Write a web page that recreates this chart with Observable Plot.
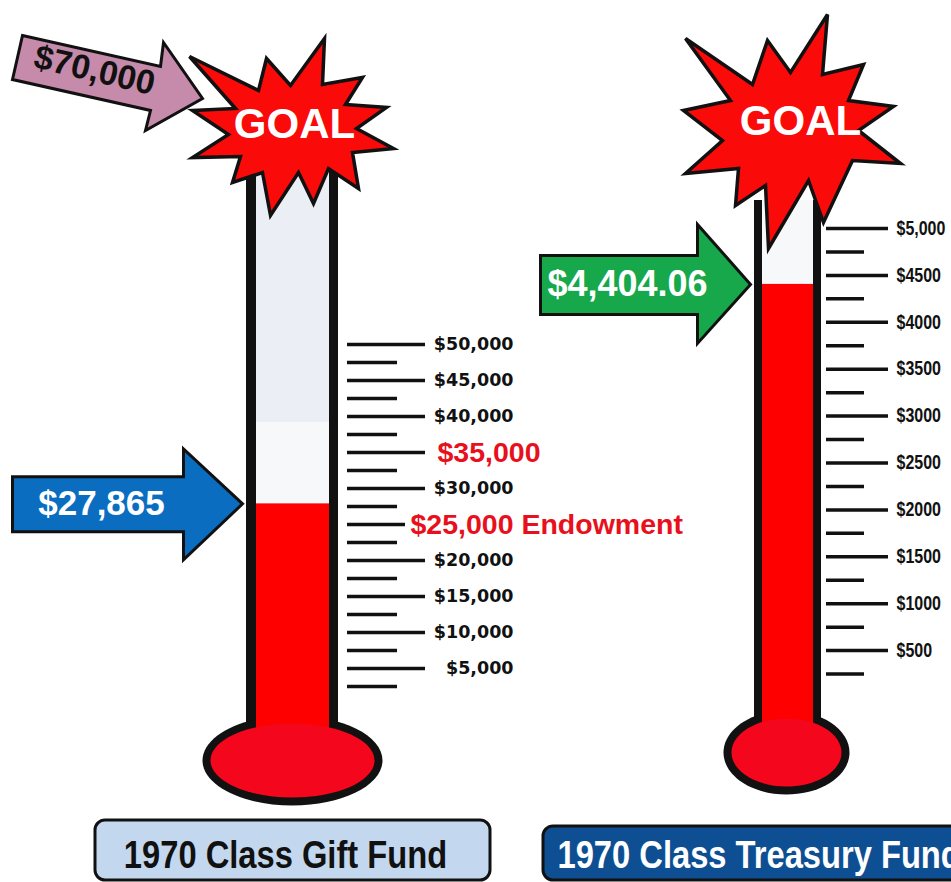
<!DOCTYPE html>
<html>
<head>
<meta charset="utf-8">
<script src="https://cdn.jsdelivr.net/npm/d3@7"></script>
<script src="https://cdn.jsdelivr.net/npm/@observablehq/plot@0.6"></script>
<style>
  html, body { margin: 0; padding: 0; background: #fff; }
  #chart { position: relative; width: 951px; height: 882px; overflow: hidden; }
  #chart svg { position: absolute; left: 0; top: 0; }
</style>
</head>
<body>
<div id="chart"></div>
<script>
// ---------------- DATA ----------------
const fundNames = ["1970 Class Gift Fund", "1970 Class Treasury Fund"];
const raisedValues = [27865, 4404.06];
const raisedLabels = ["$27,865", "$4,404.06"];
const goalText = "GOAL";
const giftGoalLabel = "$70,000";

const giftTicks = [5000, 10000, 15000, 20000, 25000, 30000, 35000, 40000, 45000, 50000];
const giftTickLabels = ["$5,000", "$10,000", "$15,000", "$20,000", "$25,000 Endowment", "$30,000", "$35,000", "$40,000", "$45,000", "$50,000"];
const giftMilestones = [25000, 35000];

const treasuryTicks = [500, 1000, 1500, 2000, 2500, 3000, 3500, 4000, 4500, 5000];
const treasuryTickLabels = ["$500", "$1000", "$1500", "$2000", "$2500", "$3000", "$3500", "$4000", "$4500", "$5,000"];

// ---------------- LAYOUT (pixels) ----------------
const layout = {
  gift: {
    zeroPx: 704, topPx: 344, topValue: 50000, minorStep: 2500,
    tubeOuter: [246, 338], tubeInner: [256, 329], tubeTop: 168, paleTop: 422,
    bulb: {cx: 292, cy: 760, rx: 90, ry: 45, border: 8},
    tickX1: 347, majorX2: 425, minorX2: 397, milestoneX2: [405, 425],
    labelX: 513, milestoneLabelX: [410, 437],
    arrow: {tipX: 242, textX: 101, body: [-230, -27, 28], head: [-59, -55, 56], fill: "#0b6dc0"},
    star: {cx: 290, cy: 128, textX: 294, textY: 124,
      pts: [[189,56],[258,90],[266,58],[290,85],[324,38],[322,84],[362,77],[345,104],[386,107],[356,128],[393,148],[352,152],[358,188],[328,168],[313,203],[298,172],[270,215],[262,172],[232,182],[240,156],[192,157],[228,134],[192,110],[235,108]]},
    goalArrow: {tipX: 202, tipY: 98, pts: [[22,35],[160,66],[163,42],[202,98],[145,130],[150,110],[12,79]], textX: 94, textY: 70, rotate: 13},
    box: {x1: 95, x2: 490, y1: 820, y2: 880, fill: "#c3d8ee", text: "#111", textX: 285, textY: 855, anchor: "middle"}
  },
  treasury: {
    zeroPx: 697, topPx: 228, topValue: 5000, minorStep: 250,
    tubeOuter: [754, 821], tubeInner: [762, 813], tubeTop: 200, paleTop: 200,
    bulb: {cx: 786, cy: 752, rx: 63, ry: 42, border: 8},
    tickX1: 826, majorX2: 888, minorX2: 864,
    labelX: 896,
    arrow: {tipX: 750, textX: 627, body: [-210, -29, 30], head: [-53, -60, 59], fill: "#17a84c"},
    star: {cx: 790, cy: 125, textX: 800, textY: 121,
      pts: [[685,38],[752,84],[767,40],[790,72],[827,14],[822,74],[863,64],[848,100],[893,106],[858,130],[900,163],[852,160],[823,222],[808,180],[768,248],[765,185],[735,205],[738,168],[685,173],[722,140],[683,110],[730,100]]},
    box: {x1: 543, x2: 975, y1: 826, y2: 880, fill: "#0e4f93", text: "#fff", textX: 557, textY: 855, anchor: "start"}
  }
};

const RED = "#fe0000";
const BULB_RED = "#f4061c";
const GLASS = "#ebeff5";
const GLASS_LOW = "#f7f8fa";
const INK = "#111";
const ARIAL = "'Liberation Sans', Arial, sans-serif";
const NARROW = "'Liberation Sans', Arial, sans-serif, narrowed";
const NARROW_TICK = "'Liberation Sans', Arial, sans-serif, narrowtick";

// ---------------- SYMBOLS ----------------
function polySymbol(points) {
  return {draw(ctx) {
    points.forEach(([x, y], i) => i ? ctx.lineTo(x, y) : ctx.moveTo(x, y));
    ctx.closePath();
  }};
}
function ellipseSymbol(rx, ry) {
  const k = 0.5523;
  return {draw(c) {
    c.moveTo(rx, 0);
    c.bezierCurveTo(rx, k * ry, k * rx, ry, 0, ry);
    c.bezierCurveTo(-k * rx, ry, -rx, k * ry, -rx, 0);
    c.bezierCurveTo(-rx, -k * ry, -k * rx, -ry, 0, -ry);
    c.bezierCurveTo(k * rx, -ry, rx, -k * ry, rx, 0);
    c.closePath();
  }};
}
function arrowSymbol(a) {
  const [bx, bt, bb] = a.body, [hx, ht, hb] = a.head;
  return polySymbol([[bx, bt], [hx, bt], [hx, ht], [0, 0], [hx, hb], [hx, bb], [bx, bb]]);
}

// ---------------- BUILD ONE THERMOMETER ----------------
function thermometer(key, i) {
  const L = layout[key];
  const toV = px => (L.zeroPx - px) / (L.zeroPx - L.topPx) * L.topValue;
  const ticks = key === "gift" ? giftTicks : treasuryTicks;
  const labels = key === "gift" ? giftTickLabels : treasuryTickLabels;
  const value = raisedValues[i];

  const majors = ticks.map((v, j) => {
    const m = key === "gift" ? giftMilestones.indexOf(v) : -1;
    return {v, label: labels[j], milestone: m >= 0,
      x2: m >= 0 ? L.milestoneX2[m] : L.majorX2,
      lx: m >= 0 ? L.milestoneLabelX[m] : L.labelX};
  });
  const minors = ticks.map(v => ({v: v - L.minorStep, x2: L.minorX2}));

  const tube = [{x1: L.tubeOuter[0], x2: L.tubeOuter[1], y1: toV(L.bulb.cy), y2: toV(L.tubeTop)}];
  const glass = [{x1: L.tubeInner[0], x2: L.tubeInner[1], y1: toV(L.bulb.cy), y2: toV(L.tubeTop)}];
  const glassLow = [{x1: L.tubeInner[0], x2: L.tubeInner[1], y1: toV(L.bulb.cy), y2: toV(L.paleTop)}];
  const fill = [{x1: L.tubeInner[0], x2: L.tubeInner[1], y1: toV(L.bulb.cy), y2: value}];
  const bulb = [{x: L.bulb.cx, y: toV(L.bulb.cy)}];
  const star = [{x: L.star.cx, y: toV(L.star.cy)}];
  const starPts = L.star.pts.map(([x, y]) => [x - L.star.cx, y - L.star.cy]);
  const b = L.box;

  const marks = [
    Plot.rect(tube, {x1: "x1", x2: "x2", y1: "y1", y2: "y2", fill: INK}),
    Plot.dot(bulb, {x: "x", y: "y", symbol: ellipseSymbol(L.bulb.rx, L.bulb.ry), fill: INK, stroke: "none"}),
    Plot.rect(glass, {x1: "x1", x2: "x2", y1: "y1", y2: "y2", fill: GLASS}),
    Plot.rect(glassLow, {x1: "x1", x2: "x2", y1: "y1", y2: "y2", fill: GLASS_LOW}),
    Plot.rect(fill, {x1: "x1", x2: "x2", y1: "y1", y2: "y2", fill: RED}),
    Plot.dot(bulb, {x: "x", y: "y", symbol: ellipseSymbol(L.bulb.rx - L.bulb.border, L.bulb.ry - L.bulb.border), fill: BULB_RED, stroke: "none"}),
    // scale ticks
    Plot.ruleY(minors, {y: "v", x1: () => L.tickX1, x2: "x2", stroke: INK, strokeWidth: 3.5}),
    Plot.ruleY(majors, {y: "v", x1: () => L.tickX1, x2: "x2", stroke: INK, strokeWidth: 3.5}),
    // value arrow
    Plot.dot([{x: L.arrow.tipX, y: value}], {x: "x", y: "y", symbol: arrowSymbol(L.arrow), fill: L.arrow.fill, stroke: INK, strokeWidth: 3, strokeLinejoin: "miter"}),
    Plot.text([{x: L.arrow.textX, y: value, t: raisedLabels[i]}], {x: "x", y: "y", text: "t", fill: "#fff", fontFamily: ARIAL, fontWeight: "bold", fontSize: key === "gift" ? 35 : 36, textAnchor: "middle"}),
    // goal star
    Plot.dot(star, {x: "x", y: "y", symbol: polySymbol(starPts), fill: "#fb0a0a", stroke: INK, strokeWidth: 3.5, strokeLinejoin: "miter"}),
    Plot.text([{x: L.star.textX, y: toV(L.star.textY), t: goalText}], {x: "x", y: "y", text: "t", fill: "#fff", fontFamily: ARIAL, fontWeight: "bold", fontSize: 42, textAnchor: "middle"}),
    // fund label box
    Plot.rect([b], {x1: "x1", x2: "x2", y1: () => toV(b.y2), y2: () => toV(b.y1), fill: b.fill, stroke: INK, strokeWidth: 3, rx: 10}),
    Plot.text([{x: b.textX, y: toV(b.textY), t: fundNames[i]}], {x: "x", y: "y", text: "t", fill: b.text, fontFamily: NARROW, fontWeight: "bold", fontSize: 38, textAnchor: b.anchor})
  ];

  if (key === "gift") {
    marks.push(
      Plot.text(majors.filter(d => !d.milestone), {x: "lx", y: "v", text: "label", textAnchor: "end", fill: INK, fontFamily: "'DejaVu Sans', Verdana, sans-serif", fontWeight: "bold", fontSize: 17.5}),
      Plot.text(majors.filter(d => d.milestone), {x: "lx", y: "v", text: "label", textAnchor: "start", fill: "#e8101c", fontFamily: ARIAL, fontWeight: "bold", fontSize: 28.5})
    );
    const g = L.goalArrow;
    marks.push(
      Plot.dot([{x: g.tipX, y: toV(g.tipY)}], {x: "x", y: "y", symbol: polySymbol(g.pts.map(([x, y]) => [x - g.tipX, y - g.tipY])), fill: "#c68aab", stroke: INK, strokeWidth: 3, strokeLinejoin: "miter"}),
      Plot.text([{x: g.textX, y: toV(g.textY), t: giftGoalLabel}], {x: "x", y: "y", text: "t", rotate: g.rotate, fill: INK, fontFamily: ARIAL, fontWeight: "bold", fontSize: 34, textAnchor: "middle"})
    );
  } else {
    marks.push(
      Plot.text(majors, {x: "lx", y: "v", text: "label", textAnchor: "start", fill: INK, fontFamily: NARROW_TICK, fontWeight: "bold", fontSize: 19.5})
    );
  }

  return Plot.plot({
    width: 951, height: 882, margin: 0,
    x: {domain: [0, 951], range: [0, 951], axis: null},
    y: {domain: [0, L.topValue], range: [L.zeroPx, L.topPx], axis: null},
    style: {background: "transparent", overflow: "visible"},
    marks
  });
}

const root = document.getElementById("chart");
root.append(thermometer("gift", 0));
root.append(thermometer("treasury", 1));

// condensed lettering (like Arial Narrow) for the fund names and the treasury scale
function narrow(selector, factor) {
  d3.selectAll(selector).each(function () {
    const w = this.getComputedTextLength();
    this.setAttribute("textLength", (w * factor).toFixed(1));
    this.setAttribute("lengthAdjust", "spacingAndGlyphs");
  });
}
narrow("#chart g[font-family*='narrowed'] text", 0.86);
narrow("#chart g[font-family*='narrowtick'] text", 0.82);
</script>
</body>
</html>
